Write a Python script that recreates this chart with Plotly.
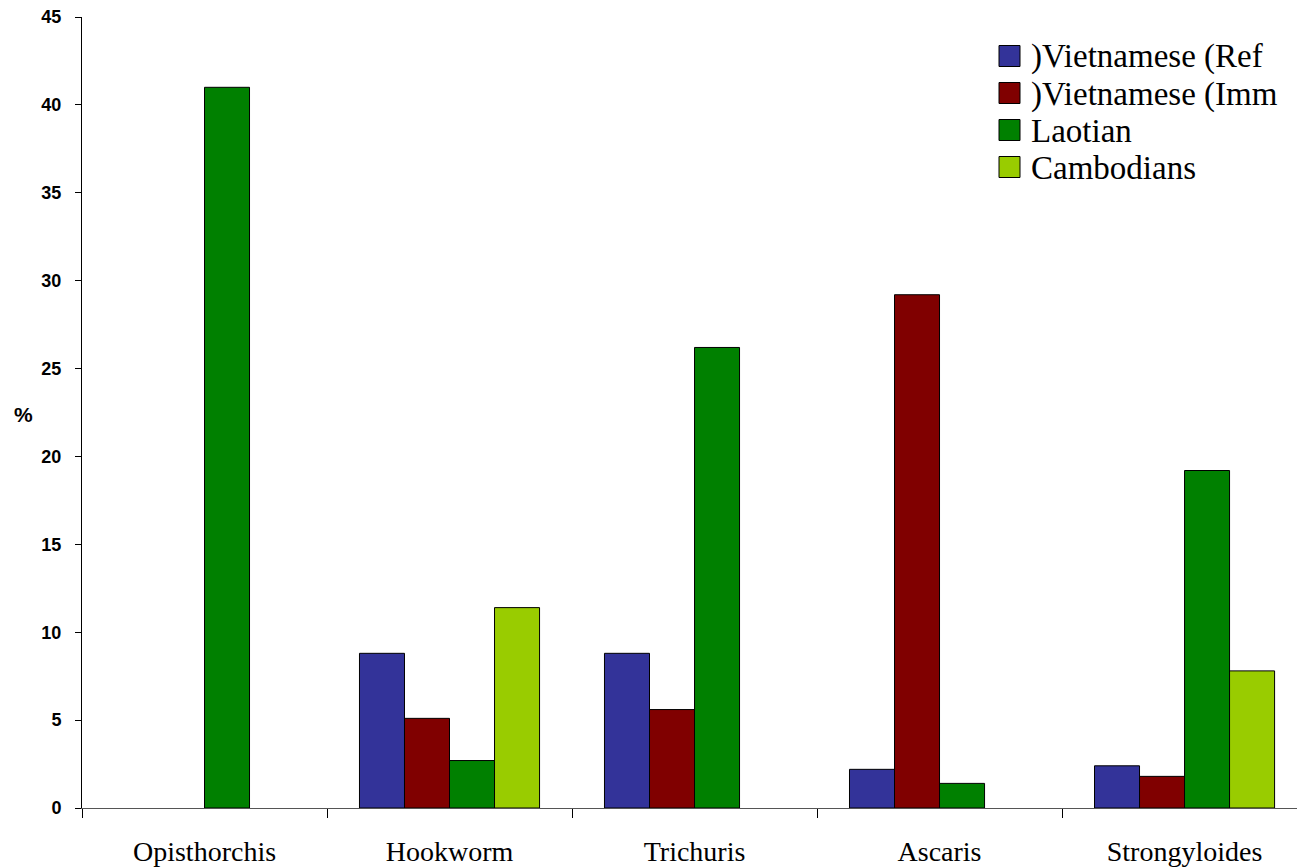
import plotly.graph_objects as go

categories = ["Opisthorchis", "Hookworm", "Trichuris", "Ascaris", "Strongyloides"]
series_names = [")Vietnamese (Ref", ")Vietnamese (Imm", "Laotian", "Cambodians"]
viet_ref = [None, 8.8, 8.8, 2.2, 2.4]
viet_imm = [None, 5.1, 5.6, 29.2, 1.8]
laotian = [41.0, 2.7, 26.2, 1.4, 19.2]
cambodians = [None, 11.4, None, None, 7.8]
colors = ["#333399", "#800000", "#008000", "#99CC00"]
y_ticks = [0, 5, 10, 15, 20, 25, 30, 35, 40, 45]

W, H = 1297, 868
ML, MR, MT, MB = 82, 0, 17, 60
PW, PH = W - ML - MR, H - MT - MB


def px_x(px):
    return (px - ML) / PW


def px_y(py):
    return (H - MB - py) / PH


fig = go.Figure()
for name, vals, col in zip(series_names, [viet_ref, viet_imm, laotian, cambodians], colors):
    fig.add_trace(go.Bar(
        x=categories, y=vals, name=name, showlegend=False,
        marker=dict(color=col, line=dict(color="#000000", width=1)),
    ))

# custom legend (squares + text) in the top-right corner
shapes = []
annotations = []
for i, (name, col) in enumerate(zip(series_names, colors)):
    cy = 56 + 37 * i
    shapes.append(dict(
        type="rect", xref="paper", yref="paper",
        x0=px_x(999), x1=px_x(1020), y0=px_y(cy + 10.5), y1=px_y(cy - 10.5),
        fillcolor=col, line=dict(color="#000000", width=1),
    ))
    annotations.append(dict(
        text=name, xref="paper", yref="paper", x=px_x(1029), y=px_y(cy + 1),
        xanchor="left", yanchor="middle", showarrow=False,
        font=dict(family="Liberation Serif", size=33, color="#000000"),
    ))

annotations.append(dict(
    text="%", xref="paper", yref="paper", x=px_x(24), y=px_y(415),
    xanchor="center", yanchor="middle", showarrow=False,
    font=dict(family="Liberation Sans", size=21, color="#000000", weight="bold"),
))

fig.update_layout(
    width=W, height=H,
    margin=dict(l=ML, r=MR, t=MT, b=MB),
    paper_bgcolor="white", plot_bgcolor="white",
    barmode="group", bargap=0.265, bargroupgap=0,
    showlegend=False,
    xaxis=dict(
        type="category", range=[-0.5, 4.459],
        tickson="boundaries", ticks="outside", ticklen=9, tickcolor="#000000",
        showline=True, linecolor="#555555", linewidth=1,
        showgrid=False, zeroline=False,
        tickfont=dict(family="Liberation Serif", size=28, color="#000000"),
        ticklabelstandoff=18,
    ),
    yaxis=dict(
        range=[0, 45], tickmode="array", tickvals=y_ticks, ticktext=[str(v) for v in y_ticks],
        ticks="outside", ticklen=6, tickcolor="#000000",
        showline=True, linecolor="#000000", linewidth=1,
        showgrid=False, zeroline=False,
        tickfont=dict(family="Liberation Sans", size=18, color="#000000", weight="bold"),
        ticklabelstandoff=10,
    ),
    shapes=shapes,
    annotations=annotations,
)

fig.write_html("out.html")
